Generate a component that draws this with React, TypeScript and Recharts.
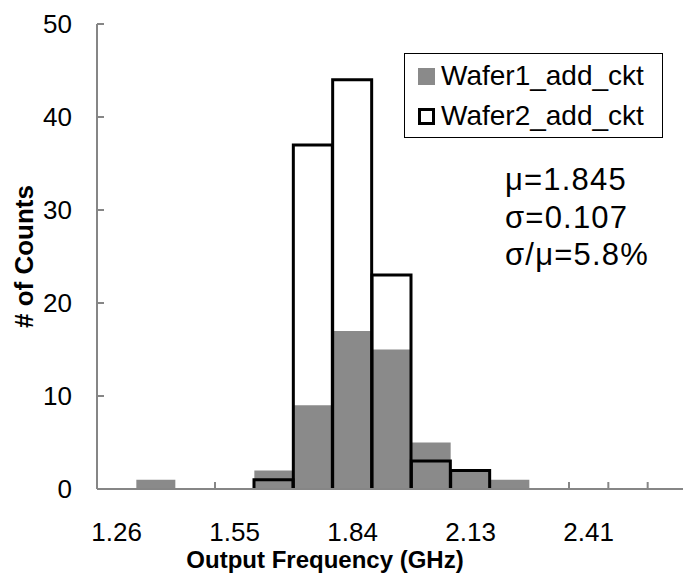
import React from "react";
import {
  BarChart,
  Bar,
  XAxis,
  YAxis,
  Legend,
  Label,
} from "recharts";

// histogram bins (GHz) and counts per wafer
const freqBins = ["1.26", "1.36", "1.45", "1.55", "1.65", "1.74", "1.84", "1.94", "2.03", "2.13", "2.22", "2.32", "2.41", "2.51", "2.61"];
const wafer1Counts = [0, 1, 0, 0, 2, 9, 17, 15, 5, 2, 1, 0, 0, 0, 0];
const wafer2Counts = [0, 0, 0, 0, 1, 37, 44, 23, 3, 2, 0, 0, 0, 0, 0];
const yTicks = [0, 10, 20, 30, 40, 50];
const seriesNames = ["Wafer1_add_ckt", "Wafer2_add_ckt"];
const statsLines = ["\u03bc=1.845", "\u03c3=0.107", "\u03c3/\u03bc=5.8%"];
const LABEL_EVERY = 3;

const chartData = freqBins.map((bin, i) => ({
  bin,
  wafer1: wafer1Counts[i],
  wafer2: wafer2Counts[i],
}));

const FONT = "Arial, 'Liberation Sans', sans-serif";
const AXIS_GRAY = "#868686";
const BAR_GRAY = "#8a8a8a";

// open-bottom outline for the Wafer2 series
const OutlineBar = (props: any) => {
  const { x, y, width, height } = props;
  if (!height || height <= 0) return null;
  const bottom = y + height;
  return (
    <path
      d={`M${x},${bottom} L${x},${y} L${x + width},${y} L${x + width},${bottom}`}
      fill="none"
      stroke="#000"
      strokeWidth={3}
    />
  );
};

// Excel style: tick marks sit between categories (hidden behind bars), label every 3rd bin
const BinTick = (props: any) => {
  const { x, y, payload, index } = props;
  const edge = x - (payload.offset || 0);
  const covered = index > 0 && (wafer1Counts[index - 1] > 0 || wafer1Counts[index] > 0);
  return (
    <g>
      {index > 0 && !covered && (
        <line x1={edge} x2={edge} y1={y} y2={y - 7} stroke={AXIS_GRAY} strokeWidth={2} />
      )}
      {index % LABEL_EVERY === 0 && index < freqBins.length - 2 && (
        <text x={x} y={y + 34} dy="0.71em" textAnchor="middle" fontSize={26} fill="#000" fontFamily={FONT}>
          {payload.value}
        </text>
      )}
    </g>
  );
};

const LegendBox = () => (
  <div
    style={{
      boxSizing: "border-box",
      width: 259,
      height: 85,
      border: "1.5px solid #000",
      background: "#fff",
      fontFamily: FONT,
      fontSize: 28,
      color: "#000",
      paddingTop: 2,
    }}
  >
    {seriesNames.map((name, i) => (
      <div key={name} style={{ display: "flex", alignItems: "center", height: 40 }}>
        <span
          style={{
            boxSizing: "border-box",
            display: "inline-block",
            width: 17,
            height: 17,
            marginLeft: 13,
            marginRight: 6,
            background: i === 0 ? BAR_GRAY : "#fff",
            border: i === 0 ? "none" : "3px solid #000",
          }}
        />
        <span>{name}</span>
      </div>
    ))}
  </div>
);

export default function App() {
  return (
    <div style={{ position: "fixed", left: 0, top: 0, width: 683, height: 583, overflow: "hidden", background: "#fff" }}>
      <BarChart
        width={687}
        height={583}
        data={chartData}
        margin={{ top: 24, right: 0, left: 0, bottom: 0 }}
        barCategoryGap={0}
        barGap="-100%"
        style={{ fontFamily: FONT }}
      >
        <XAxis
          dataKey="bin"
          interval={0}
          height={94}
          tickLine={false}
          tickSize={0}
          tickMargin={0}
          axisLine={{ stroke: AXIS_GRAY, strokeWidth: 2 }}
          tick={<BinTick />}
        >
          <Label
            value="Output Frequency (GHz)"
            position="insideBottom"
            offset={15}
            dx={-67}
            style={{ fontSize: 24, fontWeight: "bold", fill: "#000", fontFamily: FONT }}
          />
        </XAxis>
        <YAxis
          domain={[0, 50]}
          ticks={yTicks}
          width={97}
          tickSize={-7}
          tickMargin={32}
          axisLine={{ stroke: AXIS_GRAY, strokeWidth: 2 }}
          tickLine={{ stroke: AXIS_GRAY, strokeWidth: 2 }}
          tick={{ fontSize: 26, fill: "#000", fontFamily: FONT }}
        >
          <Label
            value="# of Counts"
            angle={-90}
            position="insideLeft"
            offset={24}
            style={{ textAnchor: "middle", fontSize: 26, fontWeight: "bold", fill: "#000", fontFamily: FONT }}
          />
        </YAxis>
        <Legend
          layout="vertical"
          align="center"
          verticalAlign="middle"
          content={() => <LegendBox />}
          wrapperStyle={{ left: 404, top: 53, width: 259, height: 85 }}
        />
        <Bar dataKey="wafer1" name={seriesNames[0]} fill={BAR_GRAY} isAnimationActive={false} />
        <Bar dataKey="wafer2" name={seriesNames[1]} fill="none" shape={OutlineBar} isAnimationActive={false} />
      </BarChart>
      <div
        style={{
          position: "absolute",
          left: 505,
          top: 161,
          fontFamily: FONT,
          fontSize: 31,
          letterSpacing: 1.2,
          lineHeight: "37.5px",
          color: "#000",
          whiteSpace: "nowrap",
        }}
      >
        {statsLines.map((line) => (
          <div key={line}>{line}</div>
        ))}
      </div>
    </div>
  );
}
